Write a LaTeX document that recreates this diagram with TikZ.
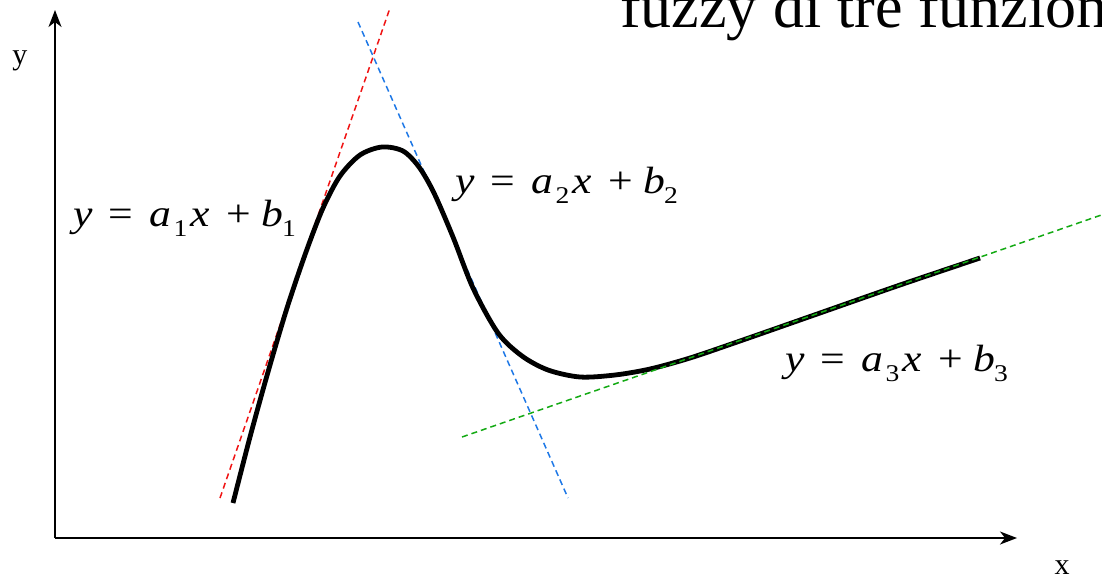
\documentclass[tikz,border=0pt]{standalone}
\usepackage{fontspec}
\setmainfont{Liberation Serif}
\usetikzlibrary{arrows.meta}
\newcommand{\subn}[1]{\raisebox{-10pt}{\fontsize{24}{26}\selectfont #1}}
\newcommand{\eqlab}[1]{\scalebox{1.15}[1]{\textit{y}\hspace{14pt}=\hspace{14pt}\textit{a}\hspace{2pt}\subn{#1}\hspace{3pt}\textit{x}\hspace{14pt}+\hspace{9pt}\textit{b}\hspace{-1pt}\subn{#1}}}
\tikzset{
  axis/.style={line width=1.6pt, -{Stealth[length=17pt,width=13pt,inset=5pt]}},
  tangent/.style={line width=1.5pt, dash pattern=on 6pt off 4pt},
  curve/.style={line width=4.8pt},
  eqtext/.style={font=\fontsize{38}{42}\selectfont, inner sep=0pt, anchor=base west},
  axtext/.style={font=\fontsize{30}{34}\selectfont, inner sep=0pt, anchor=base}
}
\definecolor{tred}{RGB}{240,20,20}
\definecolor{tblue}{RGB}{30,120,230}
\definecolor{tgreen}{RGB}{20,170,20}
\begin{document}
\begin{tikzpicture}[x=1pt,y=-1pt]
\useasboundingbox (0,0) rectangle (1102,578);
\begin{scope}
\clip (0,0) rectangle (1102,578);
\node[inner sep=0pt, anchor=base west, font=\fontsize{62}{66}\selectfont] (title) at (620,28) {fuzzy di tre funzioni};
\coordinate (o) at (55,538);
\coordinate (ytip) at (55,10);
\coordinate (xtip) at (1017,538);
\draw[axis] (o) -- (ytip);
\draw[axis] (o) -- (xtip);
\node[axtext] (ylab) at (20,64) {y};
\node[axtext] (xlab) at (1062,574) {x};
% tangents
\coordinate (r1) at (220,498); \coordinate (r2) at (390,8);
\coordinate (b1) at (358,22); \coordinate (b2) at (568,498);
\coordinate (g1) at (462,437); \coordinate (g2) at (1110,212);
\draw[tangent, tred] (r1) -- (r2);
\draw[tangent, tblue] (b1) -- (b2);
% curve
\draw[curve, line join=round] plot[smooth, tension=0.5] coordinates {
 (233,503) (250,437) (268,372) (287,308) (306,252) (323,208) (340,176) (360,155) (382,147) (403,151) (419,167) (434,193) (453,237) (473,288) (498,333) (522,356) (548,370) (580,377) (615,375) (650,369) (690,358) (740,341) (820,313) (900,285) (980,258)};
\draw[tangent, tgreen] (g1) -- (g2);
\node[eqtext] (e1) at (73,226) {\eqlab{1}};
\node[eqtext] (e2) at (455,193) {\eqlab{2}};
\node[eqtext] (e3) at (785,371) {\eqlab{3}};
\end{scope}
\end{tikzpicture}
\end{document}
